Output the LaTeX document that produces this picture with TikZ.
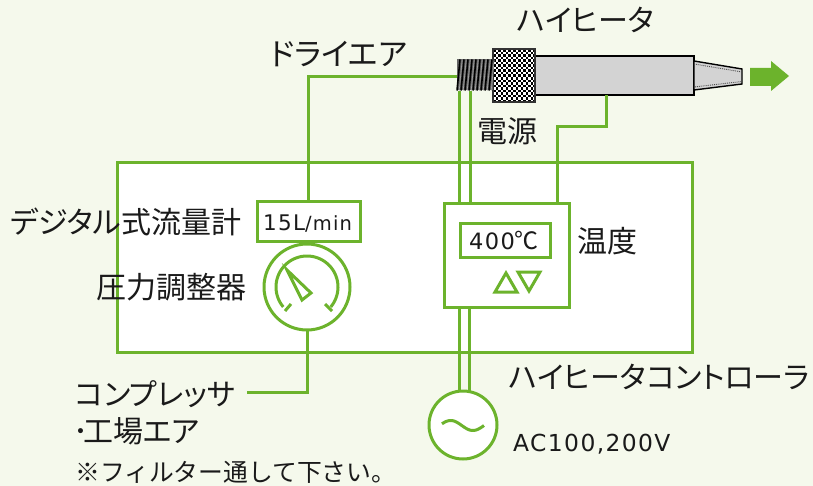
\documentclass[tikz,border=0pt]{standalone}
\usepackage{fontspec}
\setmainfont{Noto Sans CJK JP}[RawFeature=+palt]
\newfontfamily\latinw{DejaVu Sans}[LetterSpace=6]
\newfontfamily\cjkplain{Noto Sans CJK JP}
\definecolor{gr}{HTML}{6CB32C}
\definecolor{pale}{HTML}{F5F9EC}
\definecolor{tx}{HTML}{1A1A1A}
\definecolor{steel}{HTML}{D3D3D3}
\tikzset{
  wire/.style={draw=gr,line width=3pt},
  box/.style={draw=gr,line width=3pt,inner sep=0pt,outer sep=0pt},
  thin/.style={draw=gr,line width=3pt},
  lab/.style={inner sep=0pt,text=tx,font=\fontsize{30}{30}\selectfont,anchor=west},
  small/.style={inner sep=0pt,text=tx,font=\cjkplain\fontsize{24.8}{25}\selectfont,anchor=west}
}
\begin{document}
\begin{tikzpicture}[x=1pt,y=-1pt]
\useasboundingbox (0,0) rectangle (813,486);
\fill[pale] (0,0) rectangle (813,486);
% main box
\node[box,minimum width=575pt,minimum height=189pt,fill=white] (main) at (404.5,257.5) {};
% heater parts
\node[draw=black,line width=1.5pt,fill=steel,minimum width=159pt,minimum height=39pt,inner sep=0,outer sep=0] (body) at (614.5,75.5) {};
\fill[steel,draw=black,line width=1.4pt] (694,61) -- (742,69) -- (742,84) -- (694,90) -- cycle;
\draw[black!70,densely dotted,line width=.9pt] (694,64) -- (742,72) -- (742,81.5) -- (694,87);
\node[fill=white,minimum width=42pt,minimum height=53pt,inner sep=0,outer sep=0] (knurl) at (514,75.5) {};
\foreach \i in {0,...,16}{\foreach \j in {0,...,20}{
  \pgfmathparse{int(mod(\i+\j,2))}
  \ifnum\pgfmathresult=0 \fill[black] ({493+2.5*\i},{49+2.55*\j}) rectangle ++(2.5,2.55);\fi
}}
\draw[black!80,line width=1.3pt] (knurl.south west) rectangle (knurl.north east);
\node[fill=black!60,minimum width=36pt,minimum height=31pt,inner sep=0,outer sep=0] (thread) at (475,75) {};
\foreach \i in {0,...,8}{
  \draw[black,line width=1.6pt] ({457+4*\i},90.5) -- ({460+4*\i},59.5);
  \draw[black!35,line width=.6pt] ({459.2+4*\i},90.5) -- ({462.2+4*\i},59.5);
}
% arrow
\fill[gr] (750,68) -- (771,68) -- (771,61) -- (789,76) -- (771,91) -- (771,86) -- (750,86) -- cycle;
% instruments
\node[box,minimum width=103pt,minimum height=40pt,fill=white] (flow) at (308.5,222) {};
\node[box,circle,minimum size=86pt,fill=white] (gauge) at (307,287) {};
\node[box,minimum width=125pt,minimum height=103pt,fill=white] (ctrl) at (506.5,255.5) {};
\node[box,minimum width=90pt,minimum height=33pt,fill=white] (disp) at (505,240.5) {};
\node[box,circle,minimum size=68pt,fill=white] (ac) at (463,425) {};
% wires
\coordinate (airin) at (457,77);
\coordinate (comp) at (247,392);
\coordinate (w1t) at (459,91);
\coordinate (w2t) at (470,91);
\coordinate (heat) at (606,95);
\draw[wire] (308,200.5) |- (airin);
\draw[wire] (w1t) -- (w1t |- ctrl.north);
\draw[wire] (w2t) -- (w2t |- ctrl.north);
\draw[wire] (heat) -- (606,127) -- (557,127) -- (557,204);
\draw[wire] (459,307) -- (459,392);
\draw[wire] (469.5,307) -- (469.5,392);
\draw[wire] (gauge.south) |- (comp);
% gauge face
\draw[thin] plot[samples=60,domain=140:400] ({307+31*cos(\x)},{287+31*sin(\x)});
\draw[thin] (285,311) -- (291,304);
\draw[thin] (325,304) -- (332,311);
\draw[thin,line join=miter] (287,270) -- (302,300) -- (311,293) -- cycle;
% triangles
\draw[thin] (506,273) -- (495,292) -- (517,292) -- cycle;
\draw[thin] (518,272) -- (540,272) -- (529,291) -- cycle;
% tilde
\draw[thin] plot[samples=40,domain=0:1] ({442+42*\x},{425.5-5*sin(340*\x+20)});
% texts
\node[lab] (t1) at (517,20) {ハイヒータ};
\node[lab,font=\fontsize{31}{31}\selectfont] (t2) at (270,54) {ドライエア};
\node[lab] (t3) at (477.5,131) {電源};
\node[lab] (t4) at (10,222) {デジタル式流量計};
\node[lab] (t5) at (96,287) {圧力調整器};
\node[lab] (t6) at (577,241) {温度};
\node[lab] (t7) at (509,377) {ハイヒータコントローラ};
\node[lab] (t8) at (75,394) {コンプレッサ};
\node[lab] (t9) at (73,431) {･\kern-5pt 工場エア};
\node[small] (t10) at (75,472) {※フィルター通して下さい。};
\node[inner sep=0,text=tx,anchor=west] (t11) at (263,224) {\latinw\fontsize{21.5}{22}\selectfont 15L\fontsize{19.5}{20}\selectfont/min};
\node[inner sep=0,text=tx,anchor=west] (t12) at (469,241) {\latinw\fontsize{22.5}{22}\selectfont 400\cjkplain\fontsize{24}{24}\selectfont ℃};
\node[inner sep=0,text=tx,anchor=west] (t13) at (513,444) {\latinw\fontsize{23.4}{23}\selectfont AC100,200V};
\end{tikzpicture}
\end{document}
